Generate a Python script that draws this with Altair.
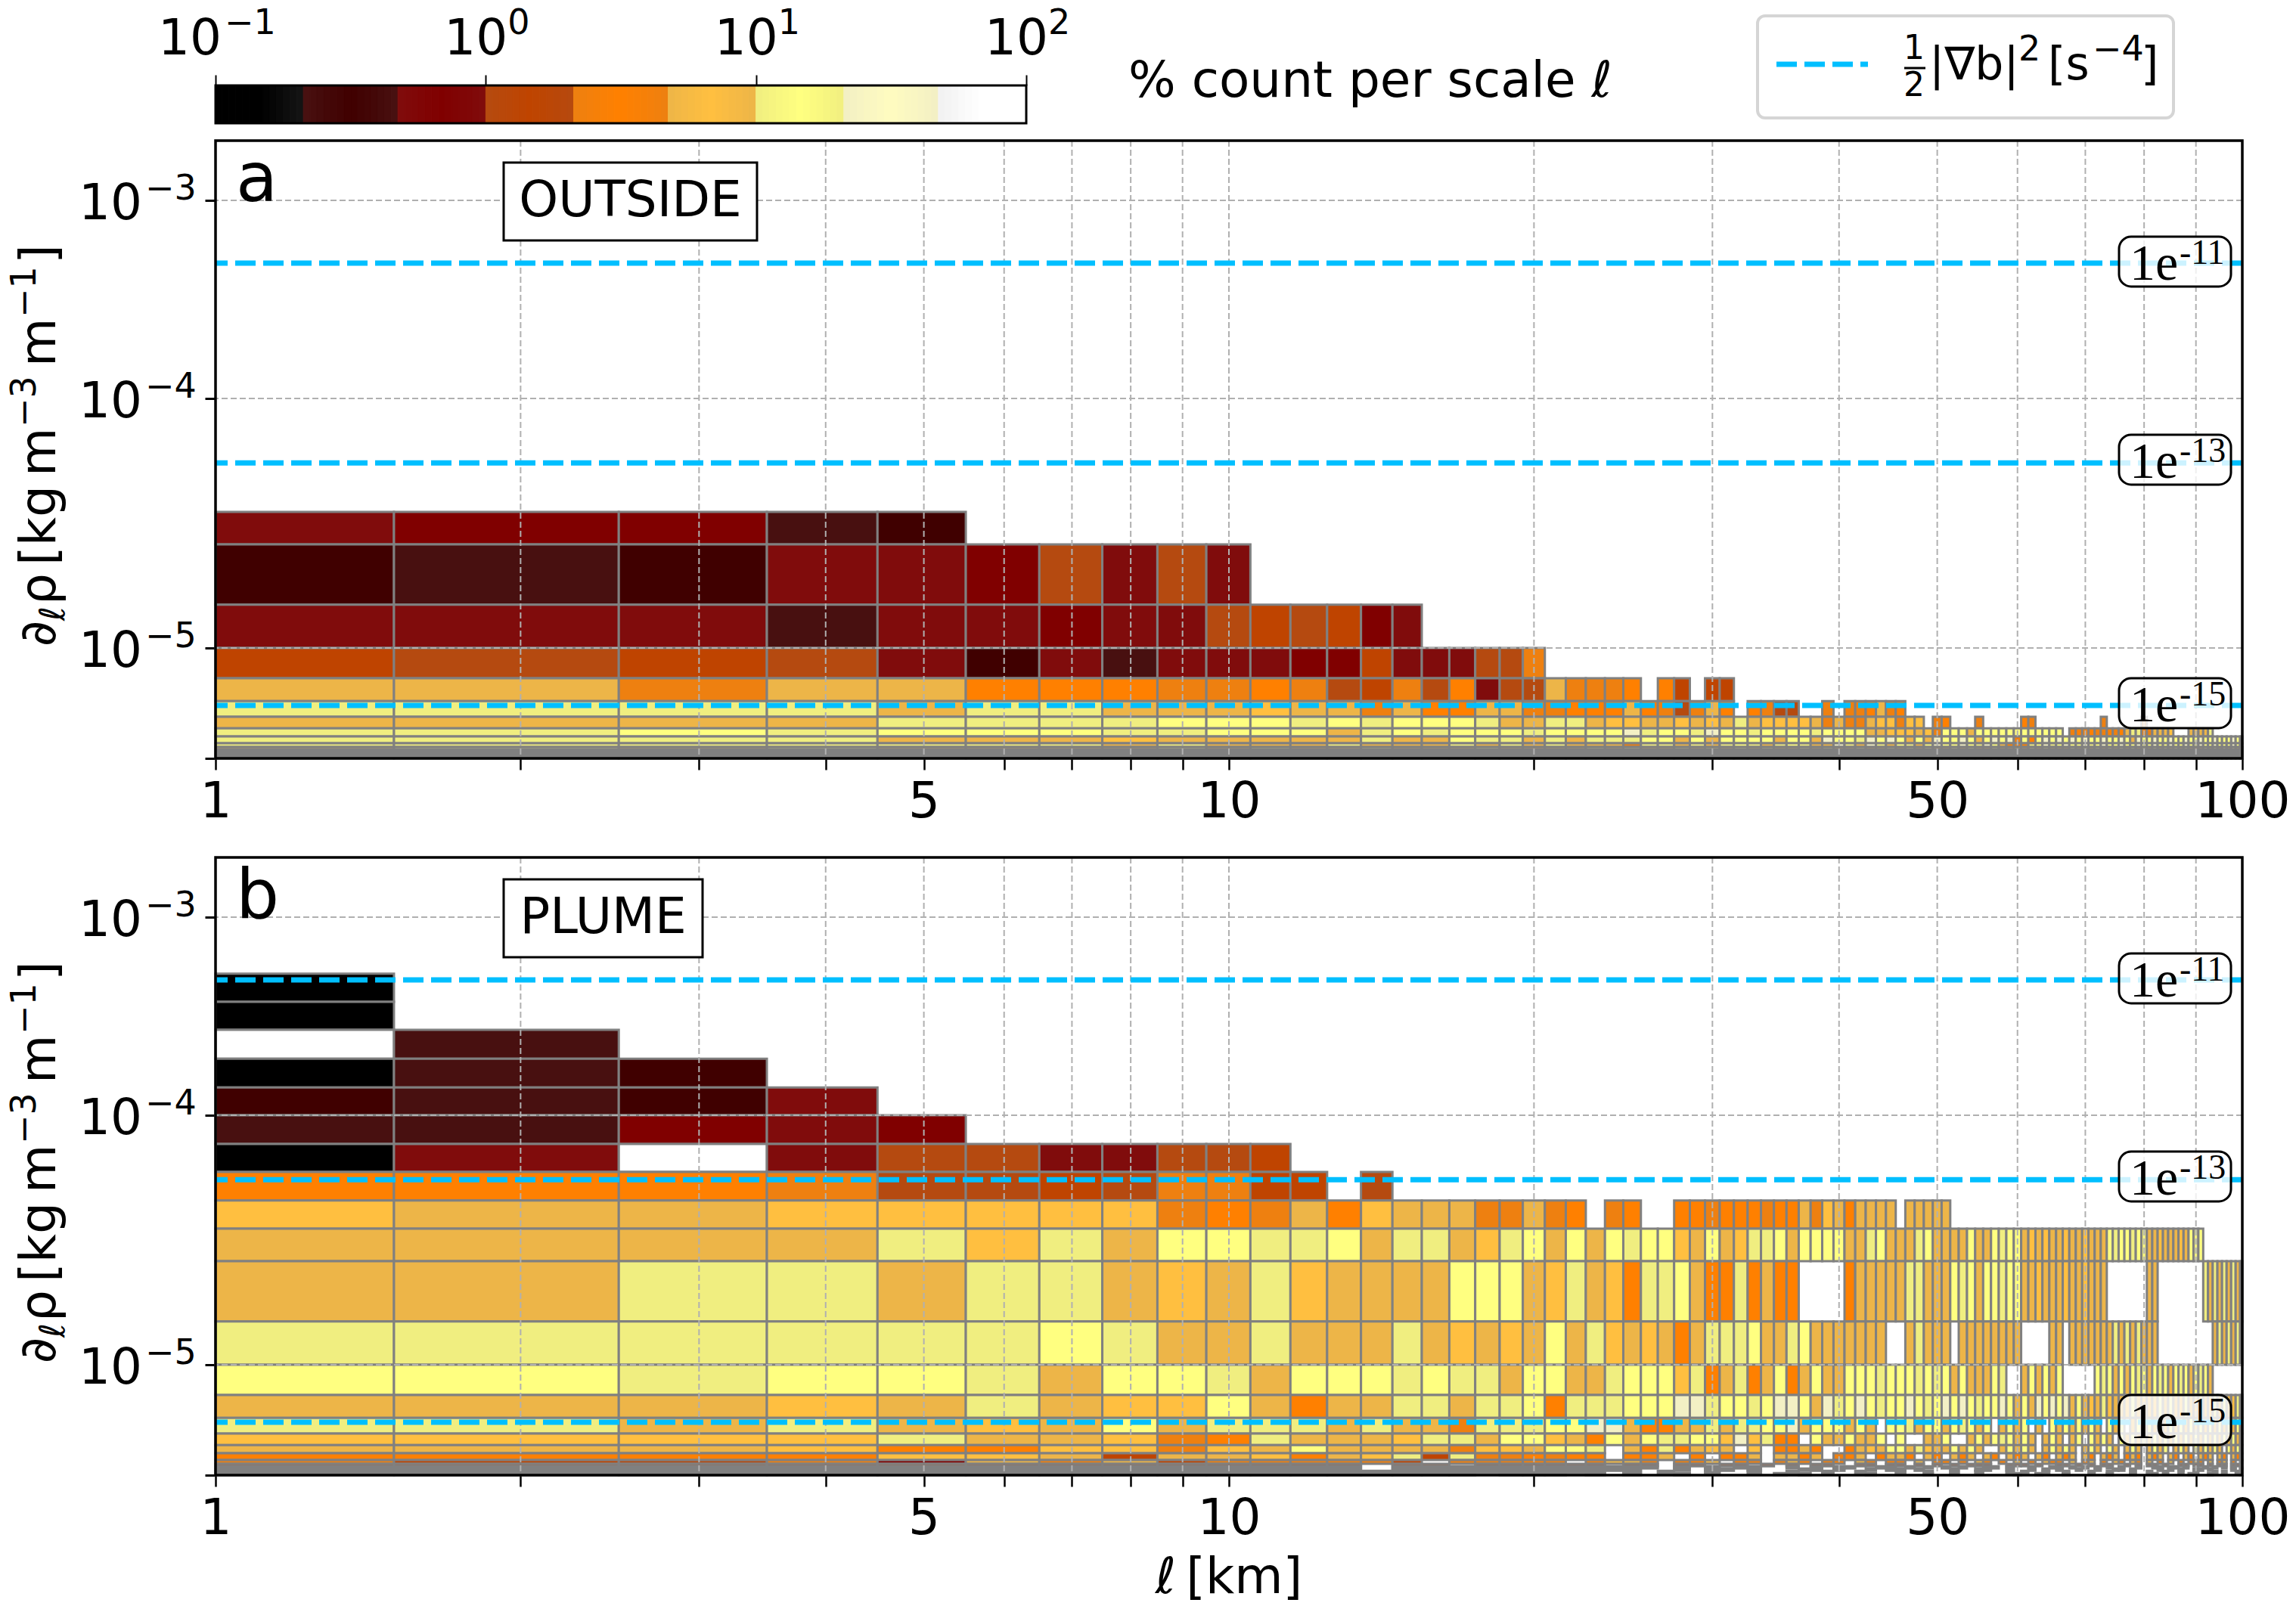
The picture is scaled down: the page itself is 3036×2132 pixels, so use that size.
import altair as alt
import pandas as pd

# ---------- values ----------
row_edges = [5.18e-4, 3.74e-4, 2.70e-4, 1.93e-4, 1.38e-4, 1.0e-4, 7.67e-5, 5.93e-5, 4.55e-5, 3.51e-5,
             2.60e-5, 1.49e-5, 1.0e-5, 7.53e-6, 6.08e-6, 5.24e-6, 4.71e-6, 4.36e-6, 4.09e-6, 3.95e-6,
             3.86e-6, 3.78e-6, 3.70e-6, 3.62e-6, 3.55e-6]

band_edges = [0.1, 0.2154, 0.4642, 1.0, 2.154, 4.642, 10.0, 21.54, 46.42, 100.0]
band_pure = ["#000000", "#400000", "#800000", "#bf4400", "#ff8000", "#ffbf40", "#ffff80", "#fffcc0", "#ffffff"]
band_soft = ["#161616", "#481010", "#800c0c", "#b54a10", "#ee8010", "#edb548", "#f0ee80", "#f3f0c4", "#f0f0f0"]
band_letters = "ABCDEFGHI"

# one string per density row (top to bottom), one letter per scale l = 1,2,3,... km
# upper case = centre of a colour band, lower case = edge of the band, '.' = no count
rows_a = [
    "", "", "", "", "", "", "", "", "",
    "cCCbB",
    "BbBcc Cdcdc",
    "cccbc cCccd DdDCc",
    "DdDdc Bcbcc cCCDc ccdde",
    "ffeff EEEee EedDe dEcdd feeeE .ED.D D",
    "ggggf ggfff Fffef EEffe eEEEf Eedef E.Eed d..e. eeEfe E",
    "ffffg gggGG GgGgG GGgff ggfFF ffFfF fgfFF FFfef eefFF eFF.e E...e ..... Ee... ..... ..e.. ....e",
    "ggGgG GGggG GGfgG gGGGg GGGGh gGGgh GGgGG GGgGG GGffF FFfFe GGGfG GGGGG GGGGG G.eEe EeeEe EfggE efffF ...fF ffg.. .....",
    "ggggf ffFff fffgf fGggf gfggg GGfGf GGGGf GGfhG GghGh GfGfh GGhGf GhGhe GEGhG hGhGh GGhGG hGfhG GhGGh GGhGG hGGhG GGhGG",
    "ggggg ggfgf ffgff fgfgf gfffe ggfgf gGgfg Ggffh gfhgf GgfGh GGhGg hGfEe EgGhg GhGGh gGhGG hGGhG GhGGh GGhGG hGGhG GGhGG",
    "fgfgf fffgf gffgf ffgff ffgfg ffgfg fgfgf fgfgf fgffg fgfgf fgfgf fgffg fgfgf ffgfg fgfgf gfgfg fgfgf gfgff fgfgf gfgfg",
    "fffff fffff fffff fffff fffff fffff fffff fffff fffff fffff fffff fffff fffff fffff fffff fffff fffff fffff fffff fffff",
    "fffff fffff fffff fffff fffff fffff fffff fffff fffff fffff fffff fffff fffff fffff fffff fffff fffff fffff fffff fffff",
    "fffff fffff fffff fffff fffff fffff fffff fffff fffff fffff fffff fffff fffff fffff fffff fffff fffff fffff fffff fffff",
    "fffff fffff fffff fffff fffff fffff fffff fffff fffff fffff fffff fffff fffff fffff fffff fffff fffff fffff fffff fffff",
]
rows_b = [
    "A",
    "A",
    "Ib",
    "AbB",
    "BbBc",
    "bbCcC",
    "AcIcd dccdd D",
    "EEEed dDdee DD.d",
    "FffFF FFFeE efEFf ffeef eE.eE ..EEe EEEeE EfeFf Efff f .fff f f",
    "ffffg FgfGG ggGfg gfFgG fGfGg GGFfG fFggG fGGGG ffgGf ffgGf fffGf fGgGG fFfFf fFffF fffGg GGgGg ffFff fFfGg G",
    "ffggf ggfFf gFfff fGGGf FgfFE ggGfE EgEfE E.... Effff fggff fGgGf GGgGG ffFff fFffF fff.. ..... ff... ..... .gfgf gfgfg",
    "ggggg gGgff gfffg fFfFf GfgFf FfEfg ggGff gGfff ffff. .fgff f.fff fffff ....f f.fff ffffg fgfgf ff... ..... ...fg fgfgf",
    "GGgGG gfGGg fGGGg GggfG GffgG GGFgE fgEfG EfGff GGGgG GGgGg GfGff fGg.. fGfGf G.... .GgGf GfGgG fGgGf GgGfG gGf.. .....",
    "fffFf gfFFG fEffg gfggG EgggG GGhhg GGgGh hGfhg GhGgG GhGgG hGhGg GGhGf GfhGh GhfGf FfgFf fFgfF fFgfg fFgfF gfFgf gfFgf",
    "ggfgf FfGfg ggfgf feggg GGhhf EEffg fggGG hfGGG fGf.G GgfGG fGgGf G.fGf G.f.G fGfGf Gf.Gf G.fGf Gf.fG fGfGf GfGfG fGfGf",
    "FFFFg ffFeE gfffF ggfGG FfEGf GggGG FhFgE E.Gff GffG. G..ff G..fG fGgGf Gf.fG f.fG. GfGf. GfGfG fGfGf GfGfG fGfGf GfGfG",
    "fffFE EFFeF fGfff feFFf GGg.f EgEfF f.F.E EfE.. EfFfG GfgFf fGfGf ..fGf Gf.fG fGf.f Gf.Gf .fGf. fGfG. fGf.G fGfGf .GfGf",
    "EEEEF FfDff FEfFg DgeeE eEE.E Ef.E. EEf.f fEf.e Ef.Ef fE.fE .fEf. fE.fE f.fE. fEf.f E.fEf .EfE. fEf.f E.fE. fEf.f E.fEf",
    "eDdeC fefDe eeeeD .eeeE e.eff e.eEf .Ee.e fE.eE .fe.E e.f.e E.e.f e.E.f .e.fE e.f.e f.e.f e.fe. f.e.f .e.ef e.f.e f.e.f",
    "ddddd ddddd ddd.d d.ddd ddd.d d.dd. dd.d. d.dd. .dd.d d.d.d .d.dd d..dd d.d.. dd.d. d.dd. .d.d. dd.d. .dd.d d.d.d d.dd.",
    "eeeee eeeee eee.e eeeee eeeee e.e.e .ee.. e.e.e e..ee .e.e. e.e.. ee.e. .e..e e.e.e .e.e. e..e. .ee.e e.e.. .e.e. e.e.e",
    "eeeee eeeee eee.e eeeee eeeee ..e.e e.e.. .ee.e ..e.e e.e.. .e..e e..e. .e.e. e..e. .e..e e.e.. ..e.e .e..e e.e.. ..e.e",
    "eeeee eeeee eeeee eeeee eee.e .e..e ..e.. e..e. .e... e..e. .e..e ...e. e..e. .e... e..e. ..e.. e..e. .e..e ...e. e..e.",
    "eeeee eeeee eeeee ee.ee e.e.e ..e.. ....e .e... ..e.. ...e. .e... ....e ..e.. .e... ...e. ..e.. .e... ...e. ..e.. ....e",
]

x_ticks = [1, 2, 3, 4, 5, 6, 7, 8, 9, 10, 20, 30, 40, 50, 60, 70, 80, 90, 100]
x_grid = [2, 3, 4, 5, 6, 7, 8, 9, 10, 20, 30, 40, 50, 60, 70, 80, 90]
y_ticks = [3.55e-6, 1e-5, 1e-4, 1e-3]
y_major = [1e-5, 1e-4, 1e-3]
y_exps = ["−5", "−4", "−3"]
level_values = [4.82e-4, 5.52e-5, 5.83e-6]
level_exps = ["-11", "-13", "-15"]
level_box_tops = [127, 389, 711]
cbar_ticks = [0.1, 1, 10, 100]
cbar_exps = ["−1", "0", "1", "2"]

BLUE = "#00bfff"
FONT = "DejaVu Sans"
FS = 66
W, H = 2680, 817

# ---------- scales ----------
c_domain, c_range = [], []
for i in range(9):
    lo, hi = band_edges[i], band_edges[i + 1]
    c_domain += [lo * 1.0005, (lo * hi) ** 0.5, hi]
    c_range += [band_pure[i] if i == 0 else band_soft[i], band_pure[i], band_pure[i] if i == 8 else band_soft[i]]
color_scale = alt.Scale(type="log", domain=c_domain, range=c_range, interpolate="rgb")
x_scale = alt.Scale(type="log", domain=[1, 100], nice=False)
y_scale = alt.Scale(type="log", domain=[3.55e-6, 1e-5, 1e-4, 1e-3, 2e-3],
                    range=[817, 671, 341, 79, 0], nice=False, zero=False)
x_axis = alt.Axis(values=x_ticks, grid=False, domain=False, tickSize=15, tickWidth=2.5, tickColor="black",
                  labelFontSize=FS, labelFont=FONT, labelColor="black", labelPadding=10, labelOverlap=False,
                  labelBound=False, labelFlush=False, title=None,
                  labelExpr="indexof([1,5,10,50,100],datum.value)>=0 ? datum.value : ''")
y_axis = alt.Axis(values=y_ticks, grid=False, domain=False, tickSize=14, tickWidth=3, tickColor="black",
                  labels=False, title=None)


def code_value(ch):
    i = band_letters.index(ch.upper())
    lo, hi = band_edges[i], band_edges[i + 1]
    return (lo * hi) ** 0.5 if ch.isupper() else lo * 1.0005


def cells(rows):
    out = []
    for r, s in enumerate(rows):
        for j, ch in enumerate(s.replace(" ", "")[:100]):
            if ch == ".":
                continue
            k = j + 1
            out.append({"x1": max(1, k - 0.5), "x2": min(100, k + 0.5),
                        "y1": row_edges[r], "y2": row_edges[r + 1], "pct": code_value(ch)})
    return pd.DataFrame(out)


one = alt.Data(values=[{"n": 1}])


def note(text, x, y, size=FS, font=FONT, **kw):
    return alt.Chart(one).mark_text(text=text, font=font, fontSize=size, align=kw.pop("align", "left"),
                                    baseline=kw.pop("baseline", "alphabetic"), color="black", **kw).encode(
        x=alt.value(x), y=alt.value(y))


def box(x1, x2, y1, y2, **kw):
    return alt.Chart(one).mark_rect(**kw).encode(x=alt.value(x1), x2=alt.value(x2), y=alt.value(y1), y2=alt.value(y2))


def panel(rows, letter, name, name_x2, show_title):
    base = alt.Chart(cells(rows)).mark_rect(stroke="#808080", strokeWidth=3).encode(
        x=alt.X("x1:Q", scale=x_scale, axis=x_axis),
        x2="x2:Q",
        y=alt.Y("y1:Q", scale=y_scale, axis=y_axis),
        y2="y2:Q",
        color=alt.Color("pct:Q", scale=color_scale, legend=None),
    )
    gx = alt.Chart(pd.DataFrame({"v": x_grid})).mark_rule(color="#b0b0b0", strokeWidth=2, strokeDash=[8, 4]).encode(
        x=alt.X("v:Q", scale=x_scale, axis=x_axis))
    gy = alt.Chart(pd.DataFrame({"v": y_major})).mark_rule(color="#b0b0b0", strokeWidth=2, strokeDash=[8, 4]).encode(
        y=alt.Y("v:Q", scale=y_scale, axis=y_axis))
    lv = alt.Chart(pd.DataFrame({"v": level_values})).mark_rule(color=BLUE, strokeWidth=7, strokeDash=[27, 10]).encode(
        y=alt.Y("v:Q", scale=y_scale, axis=y_axis))
    y_df = pd.DataFrame({"v": y_major, "e": y_exps})
    y10 = alt.Chart(y_df).mark_text(text="10", font=FONT, fontSize=FS, align="right", baseline="alphabetic",
                                    dy=25, color="black").encode(
        x=alt.value(-97), y=alt.Y("v:Q", scale=y_scale, axis=y_axis))
    yexp = alt.Chart(y_df).mark_text(font=FONT, fontSize=46, align="left", baseline="alphabetic",
                                     dy=-1, color="black").encode(
        x=alt.value(-93), y=alt.Y("v:Q", scale=y_scale, axis=y_axis), text="e:N")
    layers = [base, gx, gy, lv, y10, yexp]
    for exp, top in zip(level_exps, level_box_tops):
        layers += [
            box(2517, 2665, top, top + 66, fill="white", fillOpacity=0.8, stroke="black", strokeWidth=3, cornerRadius=16),
            note("1e", 2531, top + 57, size=68, font="Liberation Serif"),
            note(exp, 2597, top + 36, size=46, font="Liberation Serif"),
        ]
    layers += [
        note(letter, 27, 80, size=90),
        box(381, name_x2, 29, 132, fill="white", stroke="black", strokeWidth=3),
        note(name, (381 + name_x2) / 2, 100, align="center"),
        note("∂", -212, 669, angle=270),
        note("ℓ", -200, 635, size=46, angle=270),
        note("ρ", -212, 614, angle=270),
        note("[kg", -212, 562, angle=270),
        note("m", -212, 444, angle=270),
        note("−3", -238, 379, size=46, angle=270),
        note("m", -212, 299, angle=270),
        note("−1", -238, 234, size=46, angle=270),
        note("]", -212, 163, angle=270),
    ]
    if show_title:
        layers.append(note("ℓ\u2009[km]", W / 2, H + 156, align="center"))
    layers.append(box(0, W, 0, H, fill="white", fillOpacity=0, stroke="black", strokeWidth=3.5))
    return alt.layer(*layers).properties(width=W, height=H)


# ---------- colourbar ----------
samples = [0.1 * 10 ** (i / 40) for i in range(121)]
cb_df = pd.DataFrame({"a": samples[:-1], "b": samples[1:], "m": [(p * q) ** 0.5 for p, q in zip(samples[:-1], samples[1:])]})
cb_x = alt.Scale(type="log", domain=[0.1, 100], nice=False)
cb_axis = alt.Axis(orient="top", values=cbar_ticks, grid=False, domain=False, tickSize=14, tickWidth=2,
                   tickColor="black", labels=False, title=None)
cb_rect = alt.Chart(cb_df).mark_rect(strokeWidth=1).encode(
    x=alt.X("a:Q", scale=cb_x, axis=cb_axis),
    x2="b:Q",
    color=alt.Color("m:Q", scale=color_scale, legend=None),
    stroke=alt.Color("m:Q", scale=color_scale, legend=None),
)
cb_labels = []
for tick, exp in zip(cbar_ticks, cbar_exps):
    minus = exp.startswith("−")
    tk = pd.DataFrame({"v": [tick]})
    cb_labels += [
        alt.Chart(tk).mark_text(text="10", font=FONT, fontSize=FS, align="left", baseline="alphabetic",
                                dx=-76 if minus else -55, color="black").encode(
            x=alt.X("v:Q", scale=cb_x, axis=cb_axis), y=alt.value(-41)),
        alt.Chart(tk).mark_text(text=exp, font=FONT, fontSize=46, align="left", baseline="alphabetic",
                                dx=12 if minus else 29, color="black").encode(
            x=alt.X("v:Q", scale=cb_x, axis=cb_axis), y=alt.value(-68)),
    ]
cbar = alt.layer(
    cb_rect,
    *cb_labels,
    box(0, 1072, 0, 50, fill="white", fillOpacity=0, stroke="black", strokeWidth=3),
    note("% count per scale ℓ", 1207, 15),
    box(2039, 2589, -92, 43, fill="white", stroke="#d5d5d5", strokeWidth=4, cornerRadius=10),
    alt.Chart(one).mark_rule(color=BLUE, strokeWidth=7, strokeDash=[27, 10]).encode(
        x=alt.value(2064), x2=alt.value(2185), y=alt.value(-28)),
    note("1", 2246, -35, size=44, align="center"),
    note("2", 2246, 14, size=44, align="center"),
    alt.Chart(one).mark_rule(color="black", strokeWidth=3).encode(x=alt.value(2233), x2=alt.value(2261), y=alt.value(-23)),
    note("|∇b|", 2266, -8, size=60),
    note("2", 2384, -33, size=46),
    note("[s", 2423, -8, size=60),
    note("−4", 2482, -33, size=46),
    note("]", 2546, -8, size=60),
).properties(width=1072, height=50)

panels = alt.vconcat(panel(rows_a, "a", "OUTSIDE", 716, False), panel(rows_b, "b", "PLUME", 644, True),
                     spacing=131, bounds="flush")
chart = alt.vconcat(cbar, panels, spacing=23, bounds="flush").properties(
    padding={"left": 2, "top": 0, "right": 0, "bottom": 0}, background="white"
).configure_view(stroke=None)

chart.save("out.html", embed_options={"renderer": "svg", "actions": False})
